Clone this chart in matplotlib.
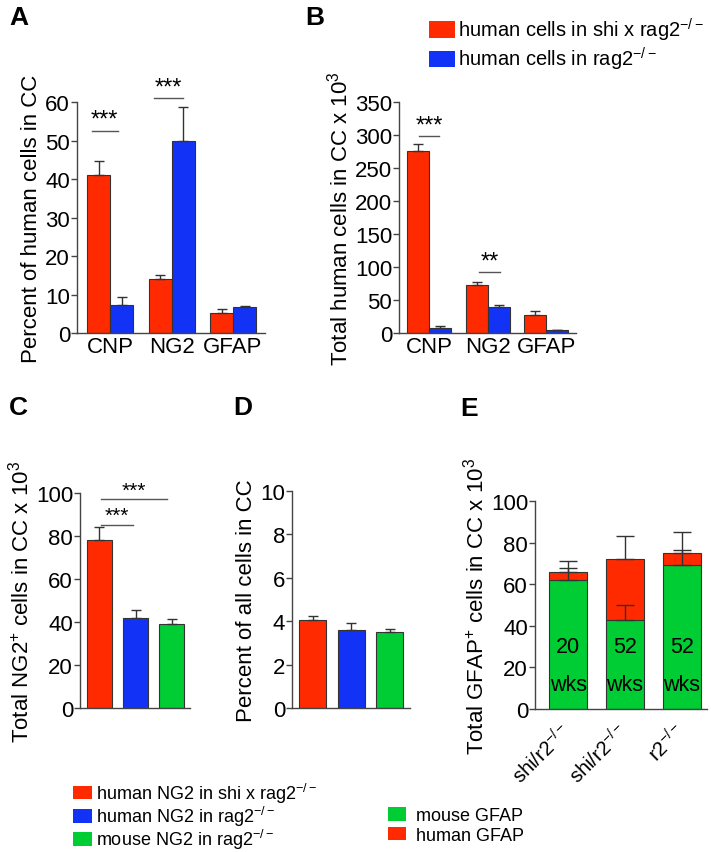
import matplotlib
matplotlib.use("Agg")
import matplotlib.pyplot as plt
import matplotlib.transforms as mtransforms
import numpy as np
from matplotlib.patches import Patch

plt.rcParams["font.family"] = ["Liberation Sans", "DejaVu Sans"]
plt.rcParams["mathtext.fontset"] = "custom"
plt.rcParams["mathtext.rm"] = "Liberation Sans"
plt.rcParams["mathtext.it"] = "Liberation Sans"
plt.rcParams["mathtext.bf"] = "Liberation Sans:bold"

RED = "#ff2a00"
BLUE = "#1233f5"
GREEN = "#00cc33"
EDGE = "#333333"

# Panel A: percent of human cells in CC
markers = ["CNP", "NG2", "GFAP"]
a_shi = [41.0, 14.0, 5.3]
a_shi_err = [3.8, 1.0, 1.0]
a_rag = [7.3, 50.0, 6.7]
a_rag_err = [2.0, 8.8, 0.2]

# Panel B: total human cells in CC x 10^3
b_shi = [276, 73, 27]
b_shi_err = [10, 5, 6]
b_rag = [7, 39, 4]
b_rag_err = [3, 3, 1]

# Panel C / D: NG2 cells
ng2_total = [78, 42, 39]
ng2_total_err = [6, 3.5, 2.5]
ng2_pct = [4.05, 3.6, 3.5]
ng2_pct_err = [0.2, 0.3, 0.15]

# Panel E: GFAP cells, stacked
e_labels = ["shi/r2$^{-/-}$", "shi/r2$^{-/-}$", "r2$^{-/-}$"]
e_weeks = ["20", "52", "52"]
e_mouse = [62, 43, 69]
e_mouse_err = [6, 7, 7.5]
e_human = [4, 29, 6]
e_total_err = [5, 11, 10]

TICK = 16
LAB = 16

fig = plt.figure(figsize=(7.11, 8.53), dpi=100)


def style_axis(ax, ymax, step):
    ax.spines["top"].set_visible(False)
    ax.spines["right"].set_visible(False)
    for s in ("left", "bottom"):
        ax.spines[s].set_linewidth(1.0)
        ax.spines[s].set_color("#444444")
    ax.set_ylim(0, ymax)
    ax.set_yticks(np.arange(0, ymax + step / 2, step))
    ax.tick_params(axis="y", direction="out", length=4, width=1, color="#444444",
                   labelsize=TICK, pad=1)
    ax.tick_params(axis="x", length=0, labelsize=TICK, pad=2)


def up_err(ax, x, y, err, cap=3.6):
    ax.errorbar(x, y, yerr=[np.zeros(len(err)), err], fmt="none",
                ecolor=EDGE, elinewidth=1, capsize=cap, capthick=1, zorder=3)


def sig(ax, x0, x1, y, label, size=17):
    ax.plot([x0, x1], [y, y], color="#555555", lw=1, clip_on=False)
    ax.text((x0 + x1) / 2, y, label, ha="center", va="bottom", fontsize=size)


# ---- A ----
axA = fig.add_axes([0.1083, 0.6084, 0.2644, 0.2708])
x = np.arange(3)
w = 0.374
axA.bar(x - w / 2, a_shi, w, color=RED, edgecolor=EDGE, lw=0.8)
axA.bar(x + w / 2, a_rag, w, color=BLUE, edgecolor=EDGE, lw=0.8)
up_err(axA, x - w / 2, a_shi, a_shi_err)
up_err(axA, x + w / 2, a_rag, a_rag_err)
style_axis(axA, 60, 10)
axA.set_xlim(-0.537, 2.52)
axA.set_xticks(x)
axA.set_xticklabels(markers)
axA.set_ylabel("Percent of human cells in CC", fontsize=LAB, labelpad=2)
sig(axA, -0.30, 0.13, 52.5, "***")
sig(axA, 0.71, 1.18, 61, "***")

# ---- B ----
axB = fig.add_axes([0.5612, 0.6084, 0.2489, 0.2708])
w = 0.376
axB.bar(x - w / 2, b_shi, w, color=RED, edgecolor=EDGE, lw=0.8)
axB.bar(x + w / 2, b_rag, w, color=BLUE, edgecolor=EDGE, lw=0.8)
up_err(axB, x - w / 2, b_shi, b_shi_err)
up_err(axB, x + w / 2, b_rag, b_rag_err)
style_axis(axB, 350, 50)
axB.set_xlim(-0.513, 2.51)
axB.set_xticks(x)
axB.set_xticklabels(markers)
axB.set_ylabel("Total human cells in CC x 10$^3$", fontsize=LAB, labelpad=2)
sig(axB, -0.17, 0.17, 298, "***")
sig(axB, 0.85, 1.21, 92, "**")

fig.legend(handles=[Patch(facecolor=RED), Patch(facecolor=BLUE)],
           labels=["human cells in shi x rag2$^{-/-}$", "human cells in rag2$^{-/-}$"],
           loc="upper left", bbox_to_anchor=(0.592, 0.99), frameon=False,
           fontsize=14.5, handlelength=1.3, handleheight=0.9, handletextpad=0.15,
           labelspacing=0.12, borderaxespad=0)

# ---- C ----
axC = fig.add_axes([0.1125, 0.1688, 0.1547, 0.2521])
w = 0.69
cols = [RED, BLUE, GREEN]
axC.bar(x, ng2_total, w, color=cols, edgecolor=EDGE, lw=0.8)
up_err(axC, x, ng2_total, ng2_total_err)
style_axis(axC, 100, 20)
axC.set_xlim(-0.54, 2.51)
axC.set_xticks([])
axC.set_ylabel("Total NG2$^{+}$ cells in CC x 10$^3$", fontsize=LAB, labelpad=2)
sig(axC, 0.04, 1.87, 97, "***", 15)
sig(axC, 0.04, 0.93, 85, "***", 15)

# ---- D ----
axD = fig.add_axes([0.4107, 0.1688, 0.166, 0.2544])
w = 0.70
axD.bar(x, ng2_pct, w, color=cols, edgecolor=EDGE, lw=0.8)
up_err(axD, x, ng2_pct, ng2_pct_err)
style_axis(axD, 10, 2)
axD.set_xlim(-0.53, 2.52)
axD.set_xticks([])
axD.set_ylabel("Percent of all cells in CC", fontsize=LAB, labelpad=2)

# ---- E ----
axE = fig.add_axes([0.7525, 0.1676, 0.2419, 0.2439])
w = 0.667
totals = np.array(e_mouse) + np.array(e_human)
axE.bar(x, e_mouse, w, color=GREEN, edgecolor=EDGE, lw=0.8)
axE.bar(x, e_human, w, bottom=e_mouse, color=RED, edgecolor=EDGE, lw=0.8)
up_err(axE, x, totals, e_total_err, cap=6.5)
up_err(axE, x, e_mouse, e_mouse_err, cap=6.5)
style_axis(axE, 100, 20)
axE.set_xlim(-0.58, 2.44)
axE.set_xticks(x)
axE.set_xticklabels(e_labels, rotation=45, ha="right", va="center",
                    rotation_mode="anchor", fontsize=14.5)
shift = mtransforms.ScaledTranslation(24 / 100, 0, fig.dpi_scale_trans)
for t in axE.get_xticklabels():
    t.set_transform(t.get_transform() + shift)
axE.tick_params(axis="x", length=0, pad=13)
axE.set_ylabel("Total GFAP$^{+}$ cells in CC x 10$^3$", fontsize=LAB, labelpad=2)
for xi, wk in zip(x, e_weeks):
    axE.text(xi, 30, wk, ha="center", va="center", fontsize=15.5)
    axE.text(xi, 12, "wks", ha="center", va="center", fontsize=15.5)

# bottom legends
fig.legend(handles=[Patch(facecolor=RED), Patch(facecolor=BLUE), Patch(facecolor=GREEN)],
           labels=["human NG2 in shi x rag2$^{-/-}$", "human NG2 in rag2$^{-/-}$",
                   "mouse NG2 in rag2$^{-/-}$"],
           loc="upper left", bbox_to_anchor=(0.092, 0.092), frameon=False,
           fontsize=13, handlelength=1.1, handleheight=0.8, handletextpad=0.2,
           labelspacing=-0.05, borderaxespad=0)
fig.legend(handles=[Patch(facecolor=GREEN), Patch(facecolor=RED)],
           labels=["mouse GFAP", "human GFAP"],
           loc="upper left", bbox_to_anchor=(0.535, 0.0615), frameon=False,
           fontsize=13, handlelength=1.0, handleheight=0.8, handletextpad=0.6,
           labelspacing=0.15, borderaxespad=0)

# panel letters
for lab, px, py in [("A", 0.013, 0.979), ("B", 0.430, 0.979), ("C", 0.013, 0.522),
                    ("D", 0.328, 0.522), ("E", 0.648, 0.52)]:
    fig.text(px, py, lab, fontsize=19, fontweight="bold", va="center", ha="left")

fig.savefig("out.png", dpi=100)
